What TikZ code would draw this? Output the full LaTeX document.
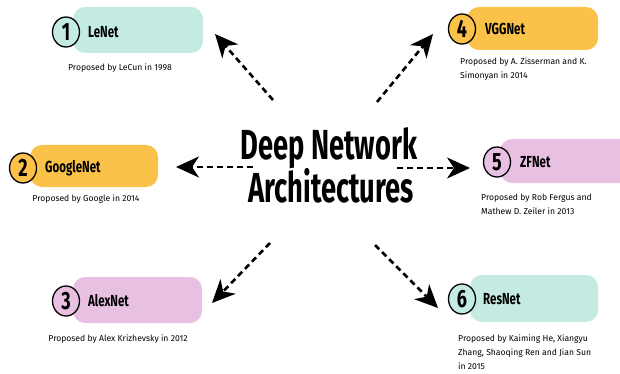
\documentclass[tikz,border=0pt]{standalone}
\usepackage{fontspec}
\usepackage{graphicx}
\setmainfont{Fira Sans}
\newfontfamily\boldf{Fira Sans}[UprightFont=* Bold]
\usetikzlibrary{arrows.meta}
\definecolor{mint}{HTML}{C4EBE2}
\definecolor{gold}{HTML}{FBC24A}
\definecolor{pinkish}{HTML}{E8C0E1}
\tikzset{
  card/.style={rounded corners=12pt, draw=none},
  numcirc/.style={ellipse, draw=black, line width=1.3pt, minimum width=27pt, minimum height=30pt, inner sep=0pt},
  numtxt/.style={font=\boldf\fontsize{25}{25}\selectfont},
  nametxt/.style={anchor=west, inner sep=0pt, font=\boldf\fontsize{16}{16}\selectfont},
  captxt/.style={inner sep=0pt, font=\fontsize{8.6}{13.8}\selectfont, align=left},
  flow/.style={line width=2.6pt, dash pattern=on 6pt off 4pt, -{Stealth[length=23pt,width=21pt,inset=7pt]}},
}
\usetikzlibrary{shapes.geometric}
\newcommand{\nx}[1]{\scalebox{0.72}[1]{#1}}
\begin{document}
\begin{tikzpicture}[x=1pt,y=-1pt]
\useasboundingbox (0,0) rectangle (620,374);
% cards
\fill[card, mint] (73,7) rectangle (203,53);
\fill[card, gold] (467,7) rectangle (598,50);
\fill[card, gold] (30,145) rectangle (158,187);
\fill[card, pinkish] (500,139) rectangle (640,183);
\fill[card, pinkish] (73,277) rectangle (202,323);
\fill[card, mint] (470,275) rectangle (598,322);
% circles
\node[numcirc, fill=mint, numtxt] (c1) at (66,32) {\nx{1}};
\node[numcirc, fill=gold, numtxt] (c4) at (462,29) {\nx{4}};
\node[numcirc, fill=gold, numtxt] (c2) at (23,168) {\nx{2}};
\node[numcirc, fill=pinkish, numtxt] (c5) at (497,162) {\nx{5}};
\node[numcirc, fill=pinkish, numtxt] (c3) at (66,301) {\nx{3}};
\node[numcirc, fill=mint, numtxt] (c6) at (462,299) {\nx{6}};
% names
\node[nametxt] (n1) at (88,32) {\nx{LeNet}};
\node[nametxt] (n4) at (485,29) {\nx{VGGNet}};
\node[nametxt] (n2) at (45,168) {\nx{GoogleNet}};
\node[nametxt] (n5) at (520,162) {\nx{ZFNet}};
\node[nametxt] (n3) at (88,301) {\nx{AlexNet}};
\node[nametxt] (n6) at (483,299) {\nx{ResNet}};
% captions
\node[captxt] (p1) at (120,68) {Proposed by LeCun in 1998};
\node[captxt, anchor=north west] (p4) at (460,58) {Proposed by A. Zisserman and K.\\Simonyan in 2014};
\node[captxt] (p2) at (86,199) {Proposed by Google in 2014};
\node[captxt, anchor=north west] (p5) at (481,194) {Proposed by Rob Fergus and\\Mathew D. Zeiler in 2013};
\node[captxt] (p3) at (118,339) {Proposed by Alex Krizhevsky in 2012};
\node[captxt, anchor=north west] (p6) at (458,335) {Proposed by Kaiming He, Xiangyu\\Zhang, Shaoqing Ren and Jian Sun\\in 2015};
% title
\node[inner sep=0pt, font=\boldf\fontsize{42}{42}\selectfont] (t1) at (329,148) {\scalebox{0.65}[1]{Deep Network}};
\node[inner sep=0pt, font=\boldf\fontsize{42}{42}\selectfont] (t2) at (331,186) {\scalebox{0.65}[1]{Architectures}};
% arrow ends
\coordinate (a1s) at (273,100); \coordinate (a1e) at (215,34);
\coordinate (a4s) at (377,102); \coordinate (a4e) at (433,34);
\coordinate (a2s) at (253,167); \coordinate (a2e) at (176,167);
\coordinate (a5s) at (397,168); \coordinate (a5e) at (470,168);
\coordinate (a3s) at (270,243); \coordinate (a3e) at (212,303);
\coordinate (a6s) at (375,245); \coordinate (a6e) at (438,308);
\draw[flow] (a1s) -- (a1e);
\draw[flow] (a4s) -- (a4e);
\draw[flow] (a2s) -- (a2e);
\draw[flow] (a5s) -- (a5e);
\draw[flow] (a3s) -- (a3e);
\draw[flow] (a6s) -- (a6e);
\end{tikzpicture}
\end{document}
